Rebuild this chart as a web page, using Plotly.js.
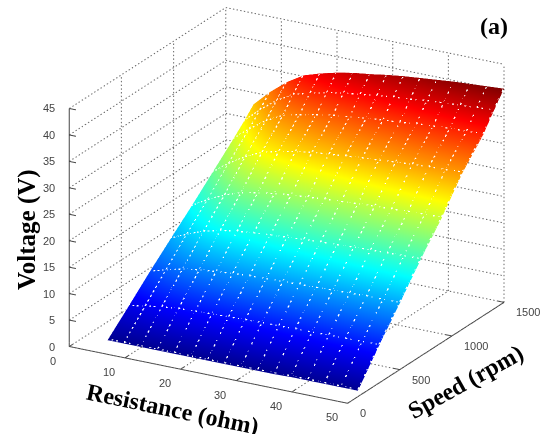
<!DOCTYPE html>
<html><head><meta charset="utf-8">
<script src="https://cdn.plot.ly/plotly-3.0.1.min.js"></script>
<style>html,body{margin:0;padding:0;background:#fff}#c{width:546px;height:434px}</style>
</head><body><div id="c"></div>
<script>
const resistance=[5,8,11,14,17,20,23,26,29,32,35,38,41,44,47,50];
const speed=[100,300,500,700,900,1100,1300,1400,1500];
const voltage=[
[1,1,1,1,1,1,1,1,1,1,1,1.1,1.1,1.1,1.1,1.1],
[4.8,5.3,5.8,6.1,6.3,6.4,6.5,6.6,6.7,6.7,6.8,6.8,6.9,6.9,7,7],
[8.7,9.6,10.4,10.9,11.2,11.5,11.7,11.8,11.9,12,12.1,12.2,12.3,12.4,12.4,12.5],
[12.4,13.8,15,15.8,16.3,16.6,16.9,17.1,17.3,17.5,17.6,17.8,17.9,18,18.1,18.2],
[16,17.8,19.3,20.4,21,21.5,21.9,22.1,22.4,22.6,22.8,23,23.1,23.3,23.4,23.5],
[19.8,22.1,24,25.5,26.3,26.9,27.4,27.7,28,28.3,28.5,28.8,29,29.2,29.3,29.5],
[23.6,26.1,28.3,29.9,30.7,31.3,31.9,32.2,32.6,32.9,33.1,33.5,33.7,33.9,34,34.2],
[25.6,28.4,30.8,32.6,33.5,34.2,34.8,35.2,35.6,36,36.2,36.6,36.8,37,37.2,37.4],
[27.8,30.8,33.3,35.2,36.2,37,37.6,38,38.5,38.9,39.2,39.5,39.8,40,40.2,40.4]];
const xTicks=[0,10,20,30,40,50], yTicks=[0,500,1000,1500], zTicks=[0,5,10,15,20,25,30,35,40,45];
const jet=[[0,'rgb(0,0,143)'],[0.125,'rgb(0,0,255)'],[0.375,'rgb(0,255,255)'],[0.625,'rgb(255,255,0)'],[0.875,'rgb(255,0,0)'],[1,'rgb(128,0,0)']];
const xMax=50,yMax=1500,zMax=45;
const pxPer=[284/50,186/1500,238/45];

function solid(polys,color,width){
  const x=[],y=[],z=[];
  polys.forEach(p=>{p.forEach(q=>{x.push(q[0]);y.push(q[1]);z.push(q[2]);});x.push(null);y.push(null);z.push(null);});
  return {type:'scatter3d',mode:'lines',x,y,z,connectgaps:false,line:{color,width},hoverinfo:'skip',showlegend:false};
}
// dotted guide lines, drawn as very short strokes along each segment
function dotted(polys,color,width,gap,on){
  const segs=[];
  polys.forEach(poly=>{
    for(let k=0;k+1<poly.length;k++){
      const a=poly[k],b=poly[k+1];
      const len=Math.hypot((b[0]-a[0])*pxPer[0],(b[1]-a[1])*pxPer[1],(b[2]-a[2])*pxPer[2]);
      const n=Math.max(1,Math.round(len/gap));
      const at=t=>[a[0]+(b[0]-a[0])*t,a[1]+(b[1]-a[1])*t,a[2]+(b[2]-a[2])*t];
      for(let i=0;i<n;i++){segs.push([at(i/n),at(Math.min(1,i/n+on/len))]);}
    }
  });
  return solid(segs,color,width);
}
const grid=[];
xTicks.forEach(t=>{grid.push([[t,0,0],[t,yMax,0],[t,yMax,zMax]]);});
yTicks.forEach(t=>{grid.push([[0,t,0],[xMax,t,0]]);grid.push([[0,t,0],[0,t,zMax]]);});
zTicks.forEach(t=>{grid.push([[0,0,t],[0,yMax,t],[xMax,yMax,t]]);});
const mesh=[];
speed.forEach((s,i)=>{mesh.push(resistance.map((r,j)=>[r,s,voltage[i][j]+0.25]));});
resistance.forEach((r,j)=>{mesh.push(speed.map((s,i)=>[r,s,voltage[i][j]+0.25]));});
const frame=[[[0,0,zMax],[0,0,0],[xMax,0,0],[xMax,yMax,0]]];
xTicks.forEach(t=>frame.push([[t,0,0],[t,40,0]]));
yTicks.forEach(t=>frame.push([[xMax,t,0],[xMax-1.2,t,0]]));
zTicks.forEach(t=>frame.push([[0,0,t],[1.2,0,t]]));

const ax=(vals,rng)=>({range:rng,tickvals:vals,ticktext:vals.map(String),tickmode:'array',showticklabels:false,showgrid:false,zeroline:false,showline:false,ticks:'',showbackground:false,showspikes:false,title:{text:''}});
const data=[
 dotted(grid,'#666',2,3.7,1.4),
 solid(frame,'#454545',2),
 {type:'surface',x:resistance,y:speed,z:voltage,colorscale:jet,cmin:1,cmax:40.4,showscale:false,hoverinfo:'skip',
  lighting:{ambient:1,diffuse:0,specular:0,roughness:1,fresnel:0}},
 dotted(mesh,'rgba(255,255,255,0.9)',2.5,4,2)
];
const sans='Liberation Sans, Arial, sans-serif';
const tick=(x,y,z,text,anchor,dx,dy)=>({x,y,z,text,showarrow:false,xanchor:anchor,yanchor:'middle',xshift:dx,yshift:dy,font:{family:sans,size:11,color:'#444'}});
const sceneNotes=[
 ...xTicks.map(t=>tick(t,0,0,String(t),'center',-16,-14)),
 ...yTicks.map(t=>tick(xMax,t,0,String(t),'left',10,-10)),
 ...zTicks.map(t=>tick(0,0,t,String(t),'right',-12,0))
];
const serif='Liberation Serif, Times New Roman, serif';
const note=(t,x,y,a,s)=>({text:'<b>'+t+'</b>',xref:'paper',yref:'paper',x:x/546,y:1-y/434,xanchor:'center',yanchor:'middle',showarrow:false,textangle:a,font:{family:serif,size:s,color:'#000'}});
const c={x:-0.0549,y:-0.0309,z:-0.0573};
const eye={x:0.913+c.x,y:-1.624+c.y,z:0.725+c.z};
const layout={width:546,height:434,margin:{l:0,r:0,t:0,b:0},paper_bgcolor:'#fff',showlegend:false,
 scene:{domain:{x:[0,1],y:[0,1]},aspectmode:'manual',aspectratio:{x:1.4714,y:1.4714,z:1.177},
  camera:{projection:{type:'orthographic'},up:{x:0,y:0,z:1},center:c,eye:eye},
  xaxis:ax(xTicks,[0,xMax]),yaxis:ax(yTicks,[0,yMax]),zaxis:ax(zTicks,[0,zMax]),annotations:sceneNotes},
 annotations:[note('(a)',494,26,0,24),note('Voltage (V)',27,230,-90,25),note('Resistance (ohm)',172,409,11.7,24),note('Speed (rpm)',465,382,-29,24)]};
Plotly.newPlot('c',data,layout,{displayModeBar:false});
</script></body></html>
